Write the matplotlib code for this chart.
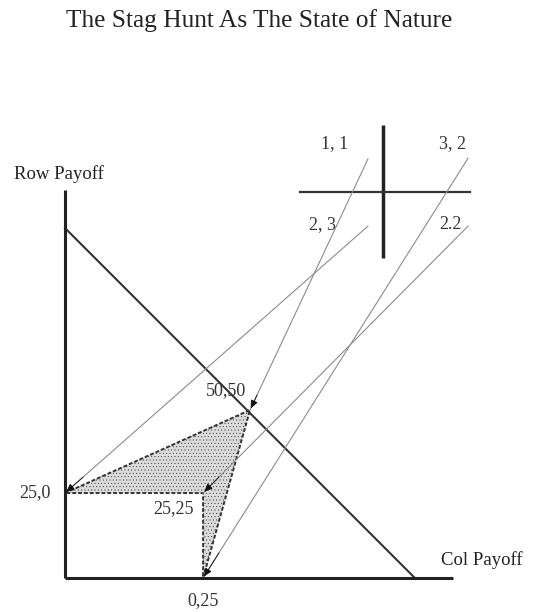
import matplotlib
matplotlib.use("Agg")
import matplotlib.pyplot as plt
from matplotlib.patches import Polygon

plt.rcParams['font.family'] = ['Liberation Serif', 'DejaVu Serif']

# diagram units (not to scale, as in the original drawing)
x_max = 100.0
y_max = 100.0

# outcome points: (col payoff position, row payoff position)
outcome_labels = ["25,0", "25,25", "0,25", "50,50"]
outcome_x = [0.0, 35.6, 35.6, 47.7]
outcome_y = [21.9, 21.9, 0.0, 43.3]

# frontier line
frontier_x = [0.0, 90.2]
frontier_y = [90.2, 0.0]

# payoff matrix in the corner
matrix_vline_x = [82.0, 82.0]
matrix_vline_y = [82.5, 116.8]
matrix_hline_x = [60.6, 104.4]
matrix_hline_y = [99.5, 99.5]
cell_labels = ["1, 1", "3, 2", "2, 3", "2.2"]
cell_x = [69.5, 100.0, 66.5, 99.3]
cell_y = [112.0, 112.0, 91.0, 91.0]

# arrows from matrix cells to outcomes (start point -> outcome index)
arrow_start_x = [78.1, 78.1, 103.9, 103.9]
arrow_start_y = [90.7, 108.0, 90.7, 108.2]
arrow_target = [0, 3, 1, 2]

fig = plt.figure(figsize=(5.34, 6.12), dpi=100)
ax = fig.add_axes([0, 0, 1, 1])
ax.set_xlim(-16.75, 120.9)
ax.set_ylim(-8.76, 148.97)
ax.axis('off')

# shaded region
poly_idx = [0, 3, 2, 1]
poly = Polygon([(outcome_x[i], outcome_y[i]) for i in poly_idx], closed=True,
               facecolor='#dcdcdc', edgecolor='#333333', lw=1.4,
               linestyle=(0, (2, 1)), hatch='.....', zorder=2)
ax.add_patch(poly)
if hasattr(poly, 'set_hatch_linewidth'):
    poly.set_hatch_linewidth(0.3)

# axes lines
ax.plot([0, 0], [0, y_max], color='#222222', lw=2.2, solid_capstyle='butt', zorder=4)
ax.plot([0, x_max], [0, 0], color='#222222', lw=2.2, solid_capstyle='butt', zorder=4)
ax.plot(frontier_x, frontier_y, color='#333333', lw=1.5, zorder=3)

# matrix
ax.plot(matrix_vline_x, matrix_vline_y, color='#222222', lw=2.5, solid_capstyle='butt')
ax.plot(matrix_hline_x, matrix_hline_y, color='#333333', lw=1.6)
for lab, cx, cy in zip(cell_labels, cell_x, cell_y):
    ax.text(cx, cy, lab, fontsize=13, color='#333333', ha='center', va='center')

# arrows: thin gray shaft, small black head near the outcome
for sx, sy, t in zip(arrow_start_x, arrow_start_y, arrow_target):
    tx, ty = outcome_x[t], outcome_y[t]
    ax.plot([sx, tx], [sy, ty], color='#8c8c8c', lw=0.8, zorder=3)
    fx, fy = tx + (sx - tx) * 0.06, ty + (sy - ty) * 0.06
    ax.annotate('', xy=(tx, ty), xytext=(fx, fy),
                arrowprops=dict(arrowstyle='-|>,head_length=0.5,head_width=0.22',
                                color='#111111', lw=0.6, shrinkA=0, shrinkB=1.2),
                zorder=5)

# labels
ax.text(0.485, 0.966, "The Stag Hunt As The State of Nature", transform=ax.transAxes,
        fontsize=18.3, color='#222222', ha='center', va='center')
ax.text(-1.5, 104.0, "Row Payoff", fontsize=13.5, color='#222222', ha='center', va='center')
ax.text(107.5, 4.6, "Col Payoff", fontsize=13.5, color='#222222', ha='center', va='center')
label_dx = [-7.7, -7.5, 0.0, -6.3]
label_dy = [0.0, -3.9, -5.9, 5.0]
for lab, px, py, dx, dy in zip(outcome_labels, outcome_x, outcome_y, label_dx, label_dy):
    ax.text(px + dx, py + dy, lab, fontsize=13, color='#333333', ha='center', va='center')

fig.savefig("out.png", dpi=100, facecolor='white')
